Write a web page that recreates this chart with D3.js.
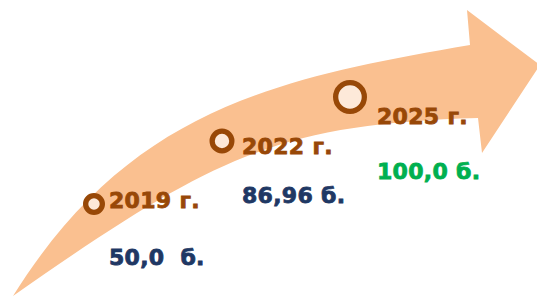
<!DOCTYPE html>
<html><head><meta charset="utf-8">
<script src="https://cdn.jsdelivr.net/npm/d3@7"></script>
<style>html,body{margin:0;padding:0;background:#fff;overflow:hidden}</style>
</head><body><svg id="chart" width="537" height="296"></svg>
<script>
// ---- data ----
const years = [2019, 2022, 2025];
const yearLabels = ["2019 г.", "2022 г.", "2025 г."];
const values = [50.0, 86.96, 100.0];
const valueLabels = ["50,0  б.", "86,96 б.", "100,0 б."];

// ---- style / layout ----
const W = 537, H = 296;
const arrowFill = "#fac090";
const brown = "#984807";
const ringFill = "#fde9d9";
const valueColors = ["#1f3864", "#1f3864", "#00b050"];
const fontFamily = "'DejaVu Sans', Verdana, sans-serif";
const fontSize = 22;
const ringWidth = 5.3;
const labelDx = [15, 20, 27];   // year label offset from marker centre
const labelDy = [4, 13, 27];
const valueDy = [57, 49, 55];   // value label baseline below year label

const svg = d3.select("#chart");

// decorative curved arrow outline
const upperEdge = [[13, 296], [128, 112], [270, 79], [470, 45]];
const lowerEdge = [[13, 296], [213, 156], [278, 124], [478, 118]];
const headPts = [[467, 10], [540, 65], [482, 153], [478, 118]];
const p = d3.path();
p.moveTo(...upperEdge[0]);
p.bezierCurveTo(...upperEdge[1], ...upperEdge[2], ...upperEdge[3]);
headPts.forEach(pt => p.lineTo(...pt));
p.bezierCurveTo(...lowerEdge[2], ...lowerEdge[1], ...lowerEdge[0]);
p.closePath();
svg.append("path").attr("d", p.toString()).attr("fill", arrowFill);

// scales
const x = d3.scaleLinear().domain([2019, 2025]).range([94, 350]);
const y = d3.scalePow().exponent(0.764).domain([0, 6]).range([204, 97]);
const r = d3.scalePow().exponent(2).domain([0, 6]).range([11, 17]);

const pts = years.map((yr, i) => ({
  yr, i, cx: x(yr), cy: y(yr - 2019), r: r(yr - 2019),
  label: yearLabels[i], value: values[i], vlabel: valueLabels[i]
}));

const g = svg.append("g");
g.selectAll("circle").data(pts).join("circle")
  .attr("cx", d => d.cx).attr("cy", d => d.cy)
  .attr("r", d => d.r - ringWidth / 2)
  .attr("fill", ringFill).attr("stroke", brown).attr("stroke-width", ringWidth);

function styleText(sel, color) {
  sel.attr("fill", color).attr("stroke", color).attr("stroke-width", 0.8)
    .attr("stroke-linejoin", "miter")
    .attr("font-family", fontFamily).attr("font-weight", "bold")
    .attr("font-size", fontSize).attr("letter-spacing", 0.3)
    .style("white-space", "pre");
}

g.selectAll("text.year").data(pts).join("text").attr("class", "year")
  .attr("x", d => d.cx + labelDx[d.i]).attr("y", d => d.cy + labelDy[d.i])
  .call(styleText, brown)
  .text(d => d.label);

g.selectAll("text.value").data(pts).join("text").attr("class", "value")
  .attr("x", d => d.cx + labelDx[d.i]).attr("y", d => d.cy + labelDy[d.i] + valueDy[d.i])
  .each(function(d) { d3.select(this).call(styleText, valueColors[d.i]); })
  .text(d => d.vlabel);
</script>
</body></html>
